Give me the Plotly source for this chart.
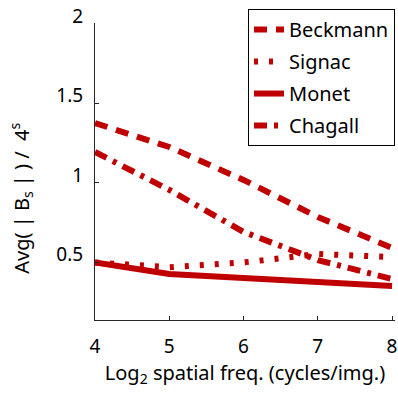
import plotly.graph_objects as go

# Log2 spatial frequency (cycles/img.)
freq = [4, 5, 6, 7, 8]

# Average |B_s| / 4^s per painter
beckmann = [1.377, 1.226, 1.019, 0.786, 0.591]
signac = [0.50, 0.47, 0.50, 0.553, 0.534]
monet = [0.50, 0.427, 0.402, 0.377, 0.352]
chagall = [1.195, 0.956, 0.692, 0.515, 0.396]

names = ["Beckmann", "Signac", "Monet", "Chagall"]
series = [beckmann, signac, monet, chagall]
dashes = ["13px,9px", "4px,11px", "solid", "13px,7px,4px,7px"]

RED = "#C00000"
FONT = "Noto Sans"

fig = go.Figure()
for name, vals, dash in zip(names, series, dashes):
    fig.add_trace(go.Scatter(
        x=freq, y=vals, name=name, mode="lines",
        legendgroup=name,
        line=dict(color=RED, width=6, dash=dash),
    ))

axis_common = dict(
    showline=True, linecolor="#262626", linewidth=1,
    ticks="inside", ticklen=4, tickcolor="#262626",
    showgrid=False, zeroline=False,
    tickfont=dict(family=FONT, size=19, color="black"),
    ticklabeloverflow="allow",
)

fig.update_layout(
    width=398, height=394,
    margin=dict(l=95, r=1, t=23, b=74),
    paper_bgcolor="white", plot_bgcolor="white",
    font=dict(family=FONT, size=19, color="black"),
    xaxis=dict(
        range=[4, 8.04], tickvals=[4, 5, 6, 7, 8],
        ticklabelstandoff=9,
        title=dict(text="Log<sub>2</sub> spatial freq. (cycles/img.)",
                   font=dict(family=FONT, size=20), standoff=8),
        **axis_common,
    ),
    yaxis=dict(
        range=[0.138, 2.006], tickvals=[0.5, 1, 1.5, 2],
        ticktext=["0.5", "1", "1.5", "2"],
        ticklabelstandoff=7, ticklabelshift=-8,
        **axis_common,
    ),
    legend=dict(
        x=1, y=1.047, xanchor="right", yanchor="top",
        bgcolor="white", bordercolor="black", borderwidth=1,
        font=dict(family=FONT, size=20),
        traceorder="grouped", tracegroupgap=3,
    ),
    annotations=[dict(
        text="Avg( | B<sub>s</sub> | ) /  4<sup>s</sup>",
        textangle=-90, xref="paper", yref="paper",
        x=-0.245, y=0.41, xanchor="center", yanchor="middle",
        showarrow=False, font=dict(family=FONT, size=20),
    )],
)

fig.write_html("out.html")
